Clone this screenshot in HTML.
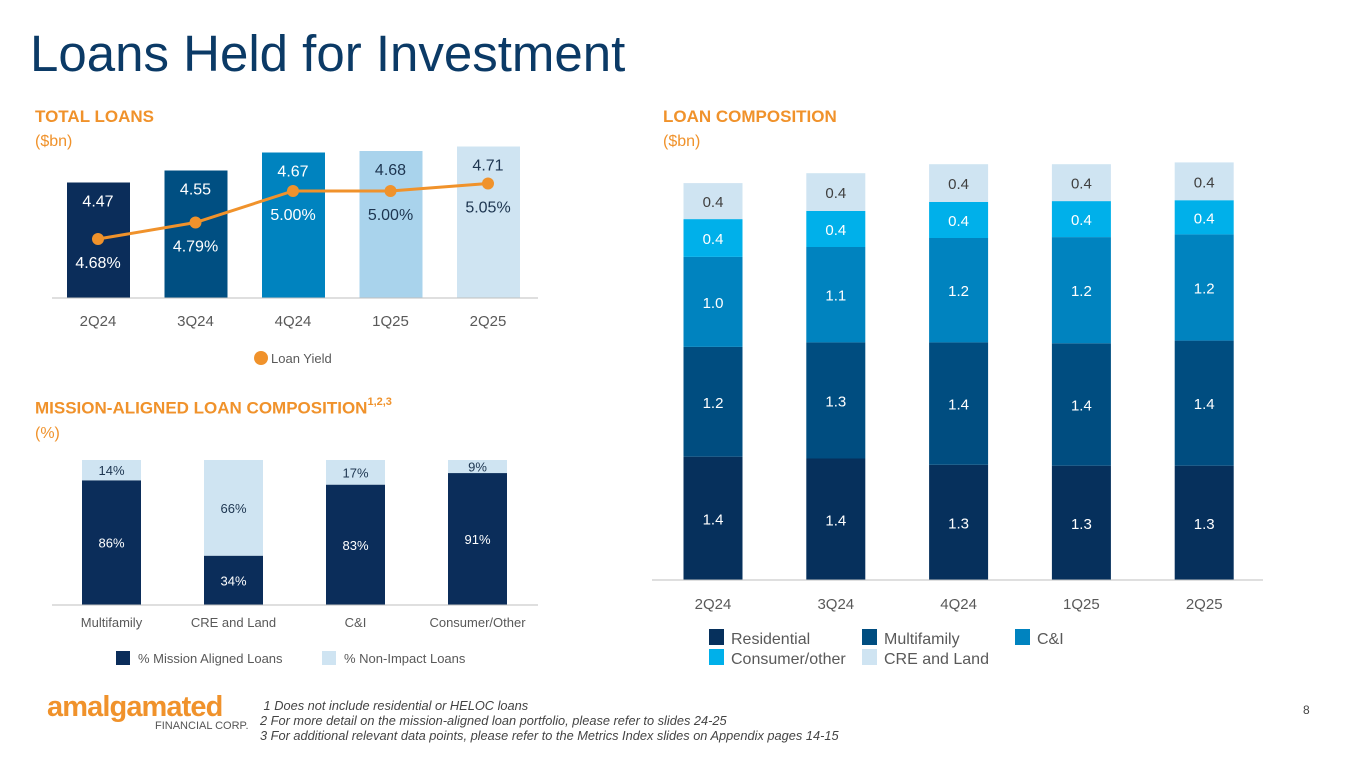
<!DOCTYPE html>
<html><head><meta charset="utf-8"><style>
body{margin:0;width:1365px;height:768px;background:#fff;overflow:hidden;font-family:"Liberation Sans",Arial,sans-serif;position:relative}
.a{position:absolute;white-space:nowrap}
.h{color:#f0922b;font-weight:bold;font-size:17px}
.s{color:#f0922b;font-size:16px}
</style></head><body>
<div class="a" style="left:30px;top:24px;font-size:51px;color:#0b3a66">Loans Held for Investment</div>
<div class="a h" style="left:35px;top:107px">TOTAL LOANS</div>
<div class="a s" style="left:35px;top:133px">($bn)</div>
<div class="a h" style="left:663px;top:107px">LOAN COMPOSITION</div>
<div class="a s" style="left:663px;top:133px">($bn)</div>
<div class="a h" style="left:35px;top:398px">MISSION-ALIGNED LOAN COMPOSITION<sup style="font-size:11px;position:relative;top:-2px">1,2,3</sup></div>
<div class="a s" style="left:35px;top:425px">(%)</div>

<svg id="c" width="1365" height="768" style="position:absolute;left:0;top:0" font-family="Liberation Sans, Arial, sans-serif"></svg>

<div class="a" style="left:47px;top:691px;color:#f0922b;font-weight:bold;font-size:29px;letter-spacing:-0.9px">amalgamated</div>
<div class="a" style="left:155px;top:720px;color:#555;font-size:11px">FINANCIAL CORP.</div>
<div class="a" style="left:260px;top:698px;font-size:12.8px;font-style:italic;color:#444;line-height:15px">&nbsp;1 Does not include residential or HELOC loans<br>2 For more detail on the mission-aligned loan portfolio, please refer to slides 24-25<br>3 For additional relevant data points, please refer to the Metrics Index slides on Appendix pages 14-15</div>
<div class="a" style="left:1303px;top:703px;font-size:12px;color:#444">8</div>

<script>
// Total loans
const tlCats=["2Q24","3Q24","4Q24","1Q25","2Q25"];
const tlValues=[4.47,4.55,4.67,4.68,4.71];
const tlYield=[4.68,4.79,5.00,5.00,5.05];
// Loan composition
const lcCats=["2Q24","3Q24","4Q24","1Q25","2Q25"];
const lcSeries=["Residential","Multifamily","C&I","Consumer/other","CRE and Land"];
const lcResidential=[1.37,1.35,1.28,1.27,1.27];
const lcMultifamily=[1.22,1.29,1.36,1.36,1.39];
const lcCI=[1.0,1.06,1.16,1.18,1.18];
const lcConsumer=[0.42,0.4,0.4,0.4,0.38];
const lcCRE=[0.4,0.42,0.42,0.41,0.42];
// Mission aligned
const maCats=["Multifamily","CRE and Land","C&I","Consumer/Other"];
const maAligned=[86,34,83,91];
const maNonImpact=[14,66,17,9];

const svg=document.getElementById('c');
const NS="http://www.w3.org/2000/svg";
function mk(t,a,txt){const e=document.createElementNS(NS,t);for(const k in a)e.setAttribute(k,a[k]);if(txt!==undefined)e.textContent=txt;svg.appendChild(e);return e;}

// ---- Total loans chart
const tlX=i=>98+i*97.5, tlBase=298;
const tlY=v=>tlBase-(v-3.70)*150;
const yY=v=>239-(v-4.68)*150;
const tlCol=["#0b2d5a","#004f82","#0083bf","#a9d3ec","#cfe4f2"];
const tlTxt=["#fff","#fff","#fff","#1d3550","#1d3550"];
tlCats.forEach((c,i)=>{
  const r=mk('rect',{x:tlX(i)-31,y:tlY(tlValues[i]),width:63,height:tlBase-tlY(tlValues[i]),fill:tlCol[i]});
  
  
  const t=mk('text',{x:tlX(i),y:tlY(tlValues[i])+24,'text-anchor':'middle','font-size':16,fill:tlTxt[i]},tlValues[i].toFixed(2));
  
  
  const l=mk('text',{x:tlX(i),y:326,'text-anchor':'middle','font-size':15,fill:'#595959'},c);
  
  
});
const ax1=mk('line',{x1:52,x2:538,y1:tlBase,y2:tlBase,stroke:'#bfbfbf','stroke-width':1});


const pl=mk('polyline',{points:tlYield.map((v,i)=>tlX(i)+','+yY(v)).join(' '),fill:'none',stroke:'#f0922b','stroke-width':3});


tlYield.forEach((v,i)=>{
  const d=mk('circle',{cx:tlX(i),cy:yY(v),r:6,fill:'#f0922b'});
  
  
  const t=mk('text',{x:tlX(i),y:yY(v)+29,'text-anchor':'middle','font-size':16,fill:tlTxt[i]},v.toFixed(2)+'%');
  
  
});
const lg1=mk('circle',{cx:261,cy:358,r:7,fill:'#f0922b'});


const lg1t=mk('text',{x:271,y:363,'font-size':13,fill:'#595959'},'Loan Yield');



// ---- Loan composition chart
const lcX=i=>713+i*122.8, lcBase=580, lcS=90;
const lcData=[lcResidential,lcMultifamily,lcCI,lcConsumer,lcCRE];
const lcCol=["#06305c","#004d80","#0083bf","#00b0ea","#cfe4f2"];
const lcTc=["#fff","#fff","#fff","#fff","#404040"];
lcCats.forEach((c,i)=>{
  let cum=0;
  lcData.forEach((s,k)=>{
    const v=s[i];const y0=lcBase-cum*lcS;const h=v*lcS;cum+=v;
    const r=mk('rect',{x:lcX(i)-29.5,y:y0-h,width:59,height:h,fill:lcCol[k]});
    
    
    const t=mk('text',{x:lcX(i),y:y0-h/2+6,'text-anchor':'middle','font-size':15,fill:lcTc[k]},v.toFixed(1));
    
    
  });
  const l=mk('text',{x:lcX(i),y:609,'text-anchor':'middle','font-size':15,fill:'#595959'},c);
  
  
});
const ax2=mk('line',{x1:652,x2:1263,y1:lcBase,y2:lcBase,stroke:'#bfbfbf','stroke-width':1});


const lgPos=[[702,630],[855,630],[1008,630],[702,650],[855,650]];
lcSeries.forEach((s,k)=>{
  const r=mk('rect',{x:lgPos[k][0]+7,y:lgPos[k][1]-1,width:15,height:16,fill:lcCol[k]});
  
  
  const t=mk('text',{x:lgPos[k][0]+29,y:lgPos[k][1]+14,'font-size':16,fill:'#595959'},s);
  
  
});

// ---- Mission aligned chart
const maX=i=>111.5+i*122, maBase=605, maS=1.45;
maCats.forEach((c,i)=>{
  const ha=maAligned[i]*maS, hn=maNonImpact[i]*maS;
  const r1=mk('rect',{x:maX(i)-29.5,y:maBase-ha,width:59,height:ha,fill:'#0b2d5a'});
  
  
  const r2=mk('rect',{x:maX(i)-29.5,y:maBase-ha-hn,width:59,height:hn,fill:'#cfe4f2'});
  
  
  const t1=mk('text',{x:maX(i),y:maBase-ha/2+5,'text-anchor':'middle','font-size':13,fill:'#fff'},maAligned[i]+'%');
  
  
  const t2=mk('text',{x:maX(i),y:maBase-ha-hn/2+5,'text-anchor':'middle','font-size':13,fill:'#1d3550'},maNonImpact[i]+'%');
  
  
  const l=mk('text',{x:maX(i),y:627,'text-anchor':'middle','font-size':13,fill:'#595959'},c);
  
  
});
const ax3=mk('line',{x1:52,x2:538,y1:maBase,y2:maBase,stroke:'#bfbfbf','stroke-width':1});


const m1=mk('rect',{x:116,y:651,width:14,height:14,fill:'#0b2d5a'});


const m1t=mk('text',{x:138,y:663,'font-size':13,fill:'#595959'},'% Mission Aligned Loans');


const m2=mk('rect',{x:322,y:651,width:14,height:14,fill:'#cfe4f2'});


const m2t=mk('text',{x:344,y:663,'font-size':13,fill:'#595959'},'% Non-Impact Loans');


</script>
</body></html>
